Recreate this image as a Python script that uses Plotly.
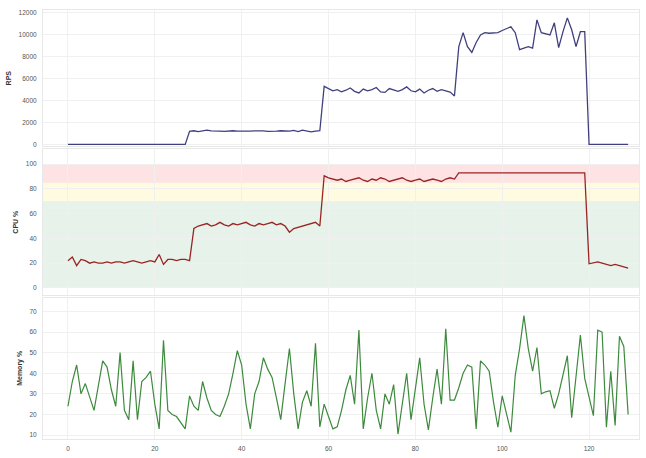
import plotly.graph_objects as go
from plotly.subplots import make_subplots

# sample index (one reading per step)
steps = list(range(130))

rps = (
    [0] * 28
    + [1200, 1250, 1180, 1220, 1300, 1240, 1200, 1210, 1190, 1230, 1250, 1220, 1200, 1180, 1210,
       1240, 1260, 1230, 1200, 1190, 1220, 1250, 1230, 1210, 1280, 1180, 1300, 1250, 1150, 1220, 1250]
    + [5300, 5100, 4900, 5000, 4800, 4950, 5150, 4850, 4700, 5050, 4900, 5000, 5200, 4800, 4750,
       5100, 4950, 4850, 5000, 5250, 4900, 4800, 5050, 4700, 4950, 5100, 4850, 5000, 4900, 4780, 4420]
    + [8930, 10200, 8930, 8400, 9300, 10000, 10200, 10150, 10200, 10200, 10400, 10600, 10740, 10200, 8660,
       8800, 8930, 8800, 11370, 10200, 10100, 10000, 11100, 8840, 10300, 11550, 10470, 8930, 10290, 10290]
    + [0] * 10
)

cpu = (
    [22, 25, 18, 23, 22, 20, 21, 20, 20, 21, 20, 21, 21, 20, 21, 22, 21, 20, 21, 22,
     21, 27, 19, 23, 23, 22, 23, 23, 22]
    + [48, 50, 51, 52, 50, 51, 53, 51, 50, 52, 51, 52, 53, 51, 50, 52, 51, 52, 53, 51,
       52, 50, 45, 48, 49, 50, 51, 52, 53, 50]
    + [90.6, 89, 88, 87, 88, 86, 87, 88, 89, 87, 86, 88, 87, 89, 88, 86, 87, 88, 89, 87,
       86, 87, 88, 86, 87, 88, 87, 86, 88, 89, 88]
    + [93, 93, 93, 92.5, 93, 93, 93, 93, 93, 93, 93, 93, 92.5, 93, 93, 93, 93, 93, 93, 93,
       93, 93, 93, 93, 93, 92.5, 93, 93, 93, 93]
    + [19.5, 20, 21, 20, 19, 18, 19, 18, 17, 16]
)

mem = [
    24, 36, 44, 30, 35, 29, 22, 34, 46, 43, 32, 24, 50, 22, 17.5, 46, 17.5, 36, 38, 41,
    25, 13, 56, 22, 20, 19, 16, 13, 29, 24, 22, 36, 28, 22, 20, 19, 24, 30, 40, 51,
    44, 25, 13, 30, 36, 47.5, 42, 38, 28, 17.5, 35, 52, 30, 13, 26, 31.5, 24, 54.5, 14, 25,
    19, 13, 14, 22, 32, 39, 25, 61, 13, 28, 40, 22, 13, 30, 25, 34.5, 10.5, 26, 40, 17.5,
    32, 47.5, 25, 12.5, 28, 42, 25, 61.6, 27, 27, 33, 40, 44, 43, 13, 46, 44, 41, 26, 13.8,
    29, 20, 11.4, 39, 52, 68, 52, 41, 52.5, 30, 31, 31.5, 23, 30, 40, 48.5, 18.4, 38, 58.6, 37.5,
    28, 19.4, 60.9, 60, 13.8, 41, 14.7, 58, 53, 20,
]

x_ticks = [0, 20, 40, 60, 80, 100, 120]
rps_ticks = [0, 2000, 4000, 6000, 8000, 10000, 12000]
cpu_ticks = [0, 20, 40, 60, 80, 100]
mem_ticks = [10, 20, 30, 40, 50, 60, 70]

# CPU zones: (low, high, fill)
zones = [
    (0, 70, "rgba(40,140,60,0.11)"),
    (70, 85, "rgba(250,235,120,0.22)"),
    (85, 100, "rgba(240,60,60,0.14)"),
]

fig = make_subplots(rows=3, cols=1, shared_xaxes=True, vertical_spacing=0.01)

fig.add_trace(go.Scatter(x=steps, y=rps, mode="lines",
                         line=dict(color="#40407e", width=1.3)), row=1, col=1)
fig.add_trace(go.Scatter(x=steps, y=cpu, mode="lines",
                         line=dict(color="#9a2424", width=1.3)), row=2, col=1)
fig.add_trace(go.Scatter(x=steps, y=mem, mode="lines",
                         line=dict(color="#3d8a3d", width=1.2)), row=3, col=1)

for lo, hi, col in zones:
    fig.add_shape(type="rect", xref="x2 domain", x0=0, x1=1, yref="y2", y0=lo, y1=hi,
                  fillcolor=col, line_width=0, layer="below")

tick_font = dict(family="Liberation Sans", size=6.5, color="#555555")
title_font = dict(family="Liberation Sans", size=7, color="#333333")
grid = "#f0f0f0"

axis_common = dict(tickfont=tick_font, gridcolor=grid, zeroline=False, ticks="",
                   showline=True, linecolor="#e8e8e8", mirror=True, tickformat="d")

fig.update_xaxes(range=[-5.75, 131.5], tickvals=x_ticks, ticklabelstandoff=3, **axis_common)
fig.update_xaxes(showticklabels=True, row=3, col=1)

fig.update_layout(
    yaxis=dict(domain=[0.682, 1.0], range=[-180, 12270], tickvals=rps_ticks, ticklabelstandoff=4,
               title=dict(text="<b>RPS</b>", font=title_font, standoff=6), **axis_common),
    yaxis2=dict(domain=[0.336, 0.675], range=[-5.6, 111.9], tickvals=cpu_ticks, ticklabelstandoff=4,
                title=dict(text="<b>CPU %</b>", font=title_font, standoff=6), **axis_common),
    yaxis3=dict(domain=[0.0, 0.3295], range=[8.1, 76.7], tickvals=mem_ticks, ticklabelstandoff=4,
                title=dict(text="<b>Memory %</b>", font=title_font, standoff=6), **axis_common),
    width=646, height=458,
    margin=dict(l=43, r=6, t=10, b=11),
    paper_bgcolor="white", plot_bgcolor="white",
    showlegend=False,
)

fig.write_html("out.html")
